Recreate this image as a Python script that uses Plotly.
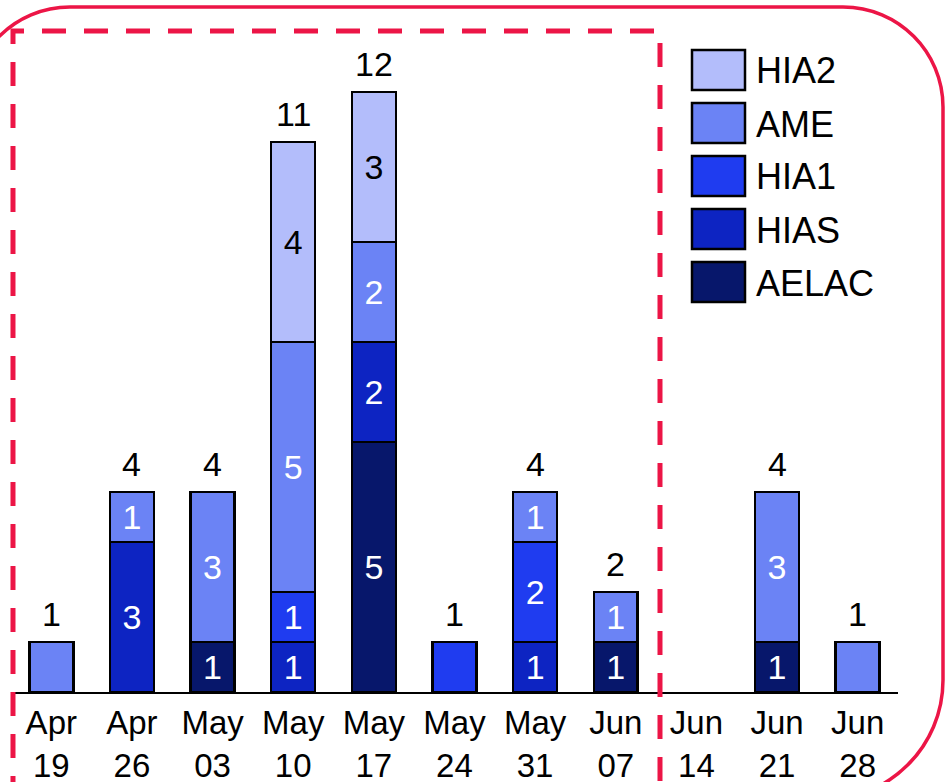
import plotly.graph_objects as go

weeks = ['Apr<br>19', 'Apr<br>26', 'May<br>03', 'May<br>10', 'May<br>17', 'May<br>24',
         'May<br>31', 'Jun<br>07', 'Jun<br>14', 'Jun<br>21', 'Jun<br>28']

# stacked from the bottom up
aelac = [0, 0, 1, 0, 5, 0, 0, 1, 0, 1, 0]
hias = [0, 3, 0, 1, 2, 0, 1, 0, 0, 0, 0]
hia1 = [0, 0, 0, 1, 0, 1, 2, 0, 0, 0, 0]
ame = [1, 1, 3, 5, 2, 0, 1, 1, 0, 3, 1]
hia2 = [0, 0, 0, 4, 3, 0, 0, 0, 0, 0, 0]

series = [
    ('AELAC', aelac, '#07176b', 'white'),
    ('HIAS', hias, '#0d24c2', 'white'),
    ('HIA1', hia1, '#1f3cf0', 'white'),
    ('AME', ame, '#6b83f5', 'white'),
    ('HIA2', hia2, '#b3bdfb', 'black'),
]

FONT = 'Liberation Sans, Arial, sans-serif'
RED = '#ec1546'

# plot area in pixels: x 15..898, y 20..692
L, R, T, B = 15, 898, 20, 692


def px(x, y):
    return (x - L) / (R - L), (B - y) / (B - T)


n = len(weeks)
# bars made of a single segment only get the total above them
nseg = [sum(1 for s in series if s[1][i]) for i in range(n)]

fig = go.Figure()
for name, vals, color, tcolor in series:
    fig.add_trace(go.Bar(
        x=list(range(n)), y=[v if v else None for v in vals], name=name,
        marker=dict(color=color, line=dict(color='black', width=2.5)),
        text=[str(v) if v and nseg[i] > 1 else '' for i, v in enumerate(vals)],
        textposition='inside', insidetextanchor='middle', constraintext='none',
        textfont=dict(color=tcolor, size=34, family=FONT),
        showlegend=False,
    ))

totals = [sum(s[1][i] for s in series) for i in range(n)]
for i, t in enumerate(totals):
    if t:
        fig.add_annotation(x=i, y=t, text=str(t), showarrow=False, yanchor='bottom',
                           yshift=7, font=dict(size=34, color='black', family=FONT))


def curve_path(pts):
    out = []
    for p in pts:
        if p[0] in ('M', 'L'):
            x, y = px(*p[1])
            out.append(f'{p[0]} {x:.5f},{y:.5f}')
        else:
            a = [px(*q) for q in p[1]]
            out.append('C ' + ' '.join(f'{x:.5f},{y:.5f}' for x, y in a))
    return ' '.join(out)


k = 0.5523
# rounded outer frame
lf, tp, rt, bt = -30, 7, 943, 800
r1, r2 = 100, 120
outer = curve_path([
    ('M', (lf, bt + 50)),
    ('L', (lf, tp + r1)),
    ('C', [(lf, tp + r1 - k * r1), (lf + r1 - k * r1, tp), (lf + r1, tp)]),
    ('L', (rt - r1, tp)),
    ('C', [(rt - r1 + k * r1, tp), (rt, tp + r1 - k * r1), (rt, tp + r1)]),
    ('L', (rt, bt - r2)),
    ('C', [(rt, bt - r2 + k * r2), (rt - r2 + k * r2, bt), (rt - r2, bt)]),
    ('L', (lf, bt)),
])
fig.add_shape(type='path', path=outer, xref='paper', yref='paper',
              line=dict(color=RED, width=3.5), layer='below')

dashed = curve_path([('M', (13, 800)), ('L', (13, 31)), ('L', (660, 31)), ('L', (660, 800))])
fig.add_shape(type='path', path=dashed, xref='paper', yref='paper',
              line=dict(color=RED, width=5, dash='24px,18px'), layer='above')

# legend drawn by hand, HIA2 at the top
for i, (name, vals, color, tcolor) in enumerate(reversed(series)):
    top = 50 + 53 * i
    x0, y0 = px(692, top + 40)
    x1, y1 = px(745, top)
    fig.add_shape(type='rect', xref='paper', yref='paper', x0=x0, y0=y0, x1=x1, y1=y1,
                  fillcolor=color, line=dict(color='black', width=2.5))
    lx, ly = px(754, top + 21)
    fig.add_annotation(x=lx, y=ly, xref='paper', yref='paper', text=name, showarrow=False,
                       xanchor='left', yanchor='middle',
                       font=dict(size=36, color='black', family=FONT))

fig.update_layout(
    width=946, height=782,
    margin=dict(l=L, r=946 - R, t=T, b=782 - B),
    plot_bgcolor='white', paper_bgcolor='white',
    barmode='stack', bargap=0.455,
    font=dict(family=FONT, size=33, color='black'),
    xaxis=dict(tickmode='array', tickvals=list(range(n)), ticktext=weeks,
               range=[-0.45, 10.5], showgrid=False, zeroline=False, automargin=False,
               showline=True, linecolor='black', linewidth=2, ticks='',
               tickfont=dict(size=33, family=FONT, color='black'), ticklabelstandoff=0),
    yaxis=dict(range=[0, (B - T) / 50], visible=False, showgrid=False, automargin=False),
)

fig.write_html('out.html', config={'displayModeBar': False},
               post_script="document.body.style.margin='0px';")
